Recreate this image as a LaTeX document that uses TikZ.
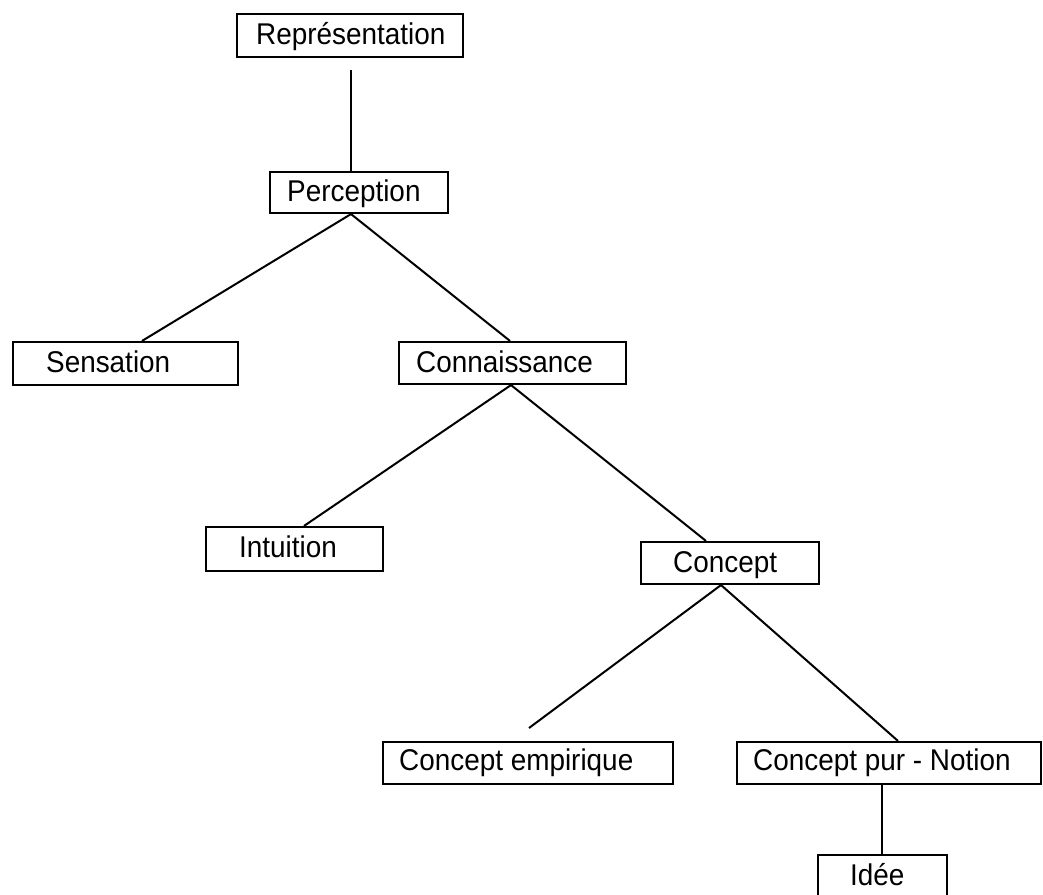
\documentclass[tikz,border=0pt]{standalone}
\usepackage{fontspec}
\setmainfont[FakeStretch=0.93]{Liberation Sans}
\begin{document}
\begin{tikzpicture}[x=1pt,y=-1pt,
  box/.style={draw, line width=2.1pt, inner sep=0pt, rectangle},
  lbl/.style={anchor=base west, inner sep=0pt, font=\fontsize{30pt}{34pt}\selectfont},
  link/.style={line width=2pt}]
\useasboundingbox[fill=white] (0,0) rectangle (1043,894);
% boxes
\node[box, minimum width=226pt, minimum height=43pt] (rep) at (350,35.5) {};
\node[box, minimum width=178pt, minimum height=41pt] (per) at (359,192.5) {};
\node[box, minimum width=225pt, minimum height=43pt] (sen) at (125.5,363.5) {};
\node[box, minimum width=227pt, minimum height=42pt] (con) at (512.5,363) {};
\node[box, minimum width=177pt, minimum height=44pt] (int) at (294.5,549) {};
\node[box, minimum width=178pt, minimum height=42pt] (cpt) at (730,563) {};
\node[box, minimum width=290pt, minimum height=42pt] (emp) at (528,763) {};
\node[box, minimum width=304pt, minimum height=42pt] (pur) at (889,763) {};
\node[box, minimum width=129pt, minimum height=41pt] (ide) at (882.5,875.5) {};
% labels
\node[lbl] (repT) at ([xshift=20pt,yshift=-8.5pt]rep.west) {Représentation};
\node[lbl] (perT) at ([xshift=18pt,yshift=-8.5pt]per.west) {Perception};
\node[lbl] (senT) at ([xshift=34pt,yshift=-9pt]sen.west) {Sensation};
\node[lbl] (conT) at ([xshift=18pt,yshift=-9pt]con.west) {Connaissance};
\node[lbl] (intT) at ([xshift=34pt,yshift=-8pt]int.west) {Intuition};
\node[lbl] (cptT) at ([xshift=33pt,yshift=-9pt]cpt.west) {Concept};
\node[lbl] (empT) at ([xshift=17pt,yshift=-7.5pt]emp.west) {Concept empirique};
\node[lbl] (purT) at ([xshift=17pt,yshift=-7.5pt]pur.west) {Concept pur - Notion};
\node[lbl] (ideT) at ([xshift=33pt,yshift=-9.5pt]ide.west) {Idée};
% connectors
\coordinate (repEnd) at (351,70);
\coordinate (empEnd) at (529,728);
\draw[link] (repEnd) -- (repEnd |- per.north);
\draw[link] ([xshift=-8pt]per.south) -- ([xshift=16.5pt]sen.north);
\draw[link] ([xshift=-8pt]per.south) -- ([xshift=-2.5pt]con.north);
\draw[link] ([xshift=-1.5pt]con.south) -- ([xshift=9.5pt]int.north);
\draw[link] ([xshift=-1.5pt]con.south) -- ([xshift=-24pt]cpt.north);
\draw[link] ([xshift=-9pt]cpt.south) -- (empEnd);
\draw[link] ([xshift=-9pt]cpt.south) -- ([xshift=9pt]pur.north);
\draw[link] ([xshift=-7pt]pur.south) -- ([xshift=-7pt]pur.south |- ide.north);
\end{tikzpicture}
\end{document}
